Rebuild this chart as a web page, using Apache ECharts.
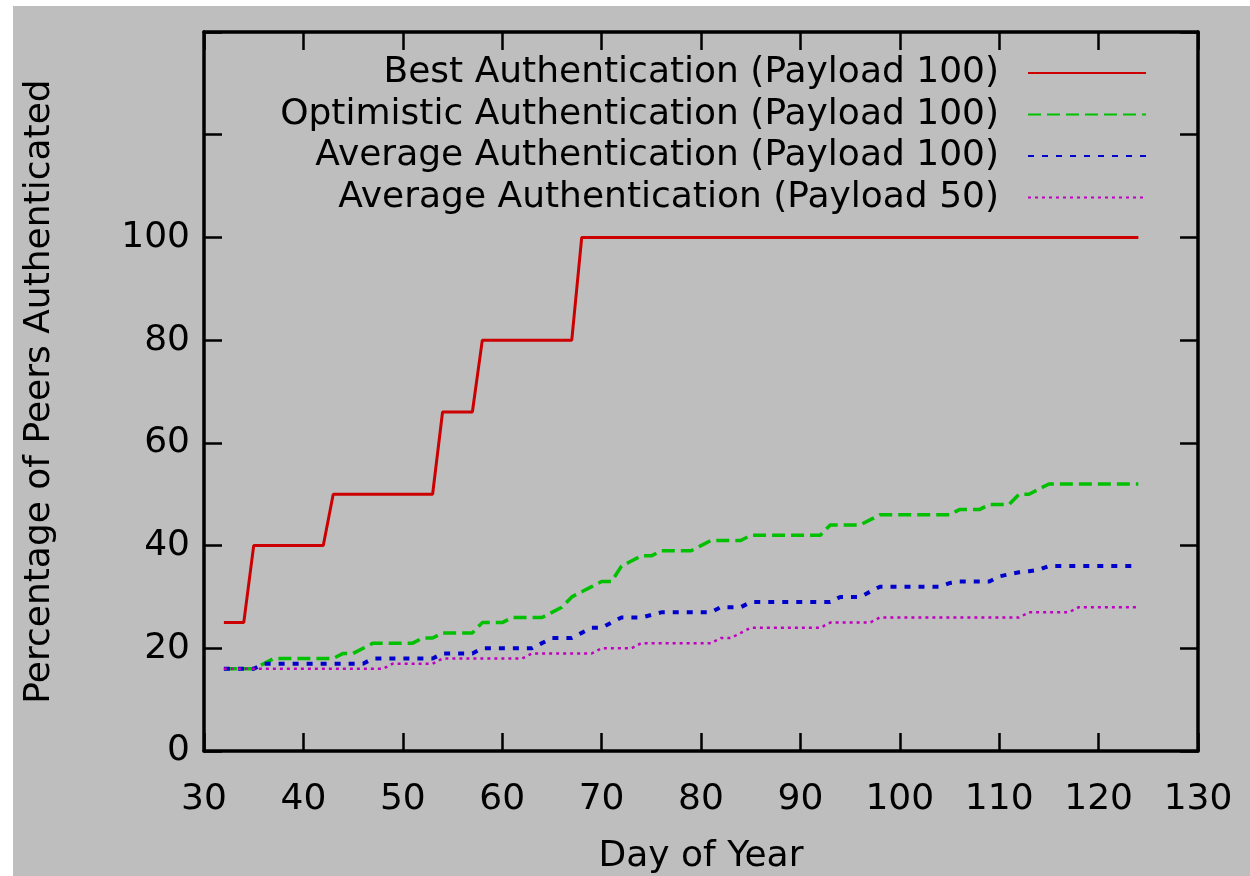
<!DOCTYPE html>
<html>
<head>
<meta charset="utf-8">
<script src="https://cdn.jsdelivr.net/npm/echarts@6/dist/echarts.min.js"></script>
<style>
  html, body { margin: 0; padding: 0; background: #ffffff; width: 1250px; height: 876px; overflow: hidden; }
  #chart { position: absolute; left: 13px; top: 6px; width: 1237px; height: 870px; }
</style>
</head>
<body>
<div id="chart"></div>
<script>
// Axis ranges
const dayMin = 30, dayMax = 130, dayStep = 10;
const pctMin = 0, pctMax = 140, pctStep = 20, pctLabelMax = 100;

// Series names
const seriesNames = [
  'Best Authentication (Payload 100)',
  'Optimistic Authentication (Payload 100)',
  'Average Authentication (Payload 100)',
  'Average Authentication (Payload 50)'
];

// [day of year, percentage of peers authenticated] at each corner of the curves
const bestAuth100 = [
  [32, 25], [34, 25], [35, 40], [42, 40], [43, 50], [53, 50], [54, 66], [57, 66],
  [58, 80], [67, 80], [68, 100], [124, 100]
];
const optimisticAuth100 = [
  [32, 16], [35, 16], [36, 17], [37, 18], [43, 18], [44, 19], [45, 19], [47, 21],
  [51, 21], [52, 22], [53, 22], [54, 23], [57, 23], [58, 25], [60, 25], [61, 26],
  [64, 26], [65, 27], [66, 28], [67, 30], [68, 31], [69, 32], [70, 33], [71, 33],
  [72, 36], [73, 37], [74, 38], [75, 38], [76, 39], [79, 39], [80, 40], [81, 41],
  [84, 41], [85, 42], [92, 42], [93, 44], [96, 44], [97, 45], [98, 46], [105, 46],
  [106, 47], [108, 47], [109, 48], [111, 48], [112, 50], [113, 50], [114, 51],
  [115, 52], [124, 52]
];
const averageAuth100 = [
  [32, 16], [35, 16], [36, 17], [46, 17], [47, 18], [53, 18], [54, 19], [57, 19],
  [58, 20], [63, 20], [64, 21], [65, 22], [67, 22], [68, 23], [69, 24], [70, 24],
  [71, 25], [72, 26], [74, 26], [75, 26.5], [76, 27], [81, 27], [82, 28], [84, 28],
  [85, 29], [93, 29], [94, 30], [96, 30], [97, 31], [98, 32], [104, 32], [105, 32.7],
  [106, 33], [109, 33], [110, 34], [111, 34.4], [112, 34.8], [113, 35], [114, 35.3],
  [115, 36], [124, 36]
];
const averageAuth50 = [
  [32, 16], [48, 16], [49, 17], [53, 17], [54, 18], [62, 18], [63, 19], [69, 19],
  [70, 20], [73, 20], [74, 21], [81, 21], [82, 22], [83, 22], [84, 23], [85, 24],
  [92, 24], [93, 25], [97, 25], [98, 26], [112, 26], [113, 27], [117, 27], [118, 28],
  [124, 28]
];

const FONT = 'DejaVu Sans';
const FS = 36;

const chart = echarts.init(document.getElementById('chart'), null, { renderer: 'canvas' });

const axisLineStyle = { color: '#000000', width: 3.5 };
const tickStyle = { color: '#000000', width: 2.5 };

function valueAxisX(position, showLabels) {
  return {
    type: 'value', position: position,
    min: dayMin, max: dayMax, interval: dayStep,
    axisLine: { show: true, onZero: false, lineStyle: axisLineStyle },
    axisTick: { show: true, inside: true, length: 18, lineStyle: tickStyle },
    axisLabel: { show: showLabels, margin: 31, color: '#000000', fontFamily: FONT, fontSize: FS },
    splitLine: { show: false }
  };
}
function valueAxisY(position, showLabels) {
  return {
    type: 'value', position: position,
    min: pctMin, max: pctMax, interval: pctStep,
    axisLine: { show: true, onZero: false, lineStyle: axisLineStyle },
    axisTick: { show: true, inside: true, length: 18, lineStyle: tickStyle },
    axisLabel: {
      show: showLabels, margin: 14, color: '#000000', fontFamily: FONT, fontSize: FS,
      formatter: v => (v <= pctLabelMax ? String(v) : '')
    },
    splitLine: { show: false }
  };
}

const xBottom = valueAxisX('bottom', true);
xBottom.name = 'Day of Year';
xBottom.nameLocation = 'middle';
xBottom.nameGap = 88;
xBottom.nameTextStyle = { color: '#000000', fontFamily: FONT, fontSize: FS };

const yLeft = valueAxisY('left', true);
yLeft.name = 'Percentage of Peers Authenticated';
yLeft.nameLocation = 'middle';
yLeft.nameGap = 146;
yLeft.nameTextStyle = { color: '#000000', fontFamily: FONT, fontSize: FS };

function lineSeries(name, data, color, width, dash) {
  return {
    name: name, type: 'line', data: data,
    xAxisIndex: 0, yAxisIndex: 0,
    symbol: 'none', showSymbol: false, smooth: false,
    lineStyle: { color: color, width: width, type: dash },
    itemStyle: { color: color },
    emphasis: { disabled: true },
    animation: false
  };
}

chart.setOption({
  backgroundColor: '#bebebe',
  animation: false,
  grid: { left: 191, right: 52, top: 26, bottom: 125, containLabel: false, outerBoundsMode: 'none' },
  xAxis: [xBottom, valueAxisX('top', false)],
  yAxis: [yLeft, valueAxisY('right', false)],
  legend: {
    orient: 'vertical', align: 'right',
    right: 103, top: 49, padding: 0,
    itemWidth: 118, itemHeight: 14, itemGap: 5.5,
    selectedMode: false,
    itemStyle: { opacity: 0 },
    textStyle: { color: '#000000', fontFamily: FONT, fontSize: FS, lineHeight: 36, padding: [0, 24, 0, 0] },
    data: seriesNames
  },
  series: [
    lineSeries(seriesNames[0], bestAuth100, '#cc0000', 3, 'solid'),
    lineSeries(seriesNames[1], optimisticAuth100, '#00c000', 3.5, [13, 6]),
    lineSeries(seriesNames[2], averageAuth100, '#0000cc', 4, [6, 8]),
    lineSeries(seriesNames[3], averageAuth50, '#c000c0', 2.5, [3, 4])
  ]
});
</script>
</body>
</html>
